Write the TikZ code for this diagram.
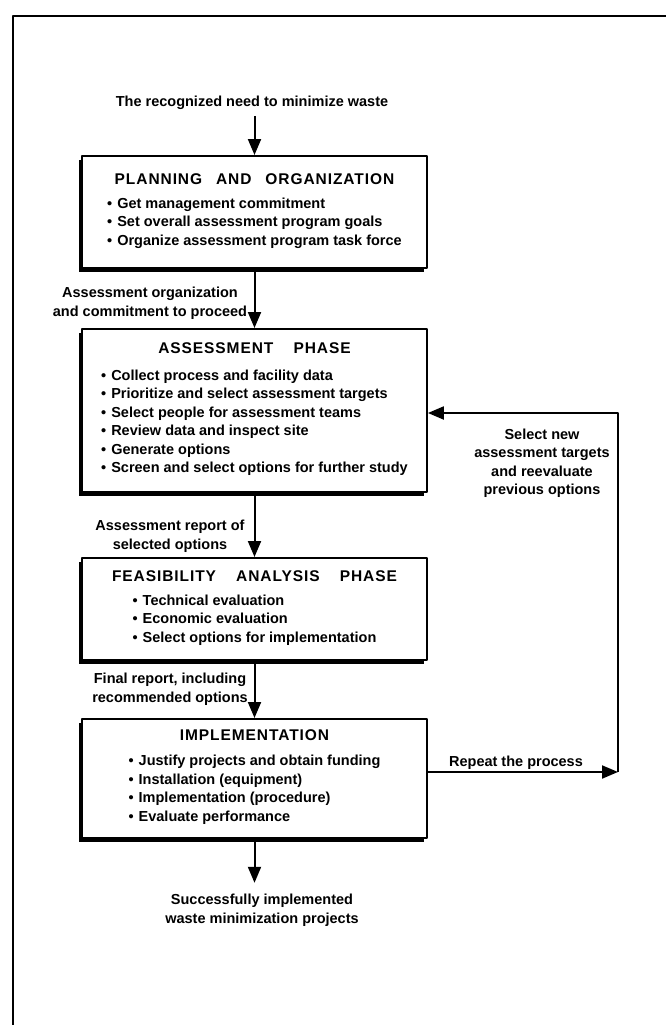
\documentclass[tikz,border=0pt]{standalone}
\usepackage{fontspec}
\setmainfont{Liberation Sans}
\usetikzlibrary{arrows.meta,shadows,positioning}
\tikzset{
  phase/.style={draw, line width=1.8pt, fill=white, minimum width=345pt, anchor=north,
    align=center, inner sep=0pt,
    drop shadow={shadow xshift=-3.5pt, shadow yshift=-4.5pt, fill=black, opacity=1}},
  flow/.style={line width=2pt, -{Triangle[length=16pt,width=13pt]}},
  lbl/.style={align=center, inner sep=0pt},
}
\newcommand\ttl[1]{{\fontsize{15.5}{18.5}\selectfont\addfontfeatures{LetterSpace=6}#1}}
\newcommand\gap[1][0.9em]{\hspace{#1}}
\newcommand\itm{\textbullet\hspace{5pt}}
\begin{document}
\begin{tikzpicture}[x=1pt,y=-1pt,font=\fontsize{14.5}{18.5}\selectfont\bfseries, line join=round]
  \useasboundingbox (0,0) rectangle (666,1025);
  % outer frame
  \draw[line width=1.5pt] (13,1025) -- (13,16) -- (666,16);
  % phases
  \node[phase, minimum height=112pt] (plan) at (254.5,155) {\ttl{PLANNING\gap AND\gap ORGANIZATION}\\[5.5pt]
    \begin{tabular}[t]{@{}l@{}}
      \itm Get management commitment\\
      \itm Set overall assessment program goals\\
      \itm Organize assessment program task force
    \end{tabular}};
  \node[phase, minimum height=163pt] (assess) at (254.5,328) {\ttl{ASSESSMENT\gap[1.3em]PHASE}\\[8.5pt]
    \begin{tabular}[t]{@{}l@{}}
      \itm Collect process and facility data\\
      \itm Prioritize and select assessment targets\\
      \itm Select people for assessment teams\\
      \itm Review data and inspect site\\
      \itm Generate options\\
      \itm Screen and select options for further study
    \end{tabular}};
  \node[phase, minimum height=102pt] (feas) at (254.5,557) {\ttl{FEASIBILITY\gap[1.3em]ANALYSIS\gap[1.3em]PHASE}\\[5.5pt]
    \begin{tabular}[t]{@{}l@{}}
      \itm Technical evaluation\\
      \itm Economic evaluation\\
      \itm Select options for implementation
    \end{tabular}};
  \node[phase, minimum height=119pt] (impl) at (254.5,718) {{\addfontfeatures{LetterSpace=10}\ttl{IMPLEMENTATION}}\\[6.5pt]
    \begin{tabular}[t]{@{}l@{}}
      \itm Justify projects and obtain funding\\
      \itm Installation (equipment)\\
      \itm Implementation (procedure)\\
      \itm Evaluate performance
    \end{tabular}};
  % labels
  \node[lbl] (need) at (252,103) {The recognized need to minimize waste};
  \node[lbl] (commit) at (150,303) {Assessment organization\\and commitment to proceed};
  \node[lbl] (report) at (170,536) {Assessment report of\\selected options};
  \node[lbl] (final) at (170,689) {Final report, including\\recommended options};
  \node[lbl] (repeat) at (516,763) {Repeat the process};
  \node[lbl] (renew) at (542,463) {Select new\\assessment targets\\and reevaluate\\previous options};
  \node[lbl] (done) at (262,910) {Successfully implemented\\waste minimization projects};
  \coordinate (c1) at (618,772);
  \coordinate (c2) at (618,413);
  % connectors
  \draw[flow, shorten <=6pt] (plan.north |- need.south) -- (plan.north);
  \draw[flow] (plan.south) -- (assess.north);
  \draw[flow] (assess.south) -- (feas.north);
  \draw[flow] (feas.south) -- (impl.north);
  \draw[flow, shorten >=11pt] (impl.south) -- (impl.south |- done.north);
  \draw[flow] (impl.east |- c1) -- (c1);
  \draw[flow] (c1) -- (c2) -- (assess.east |- c2);
\end{tikzpicture}
\end{document}
